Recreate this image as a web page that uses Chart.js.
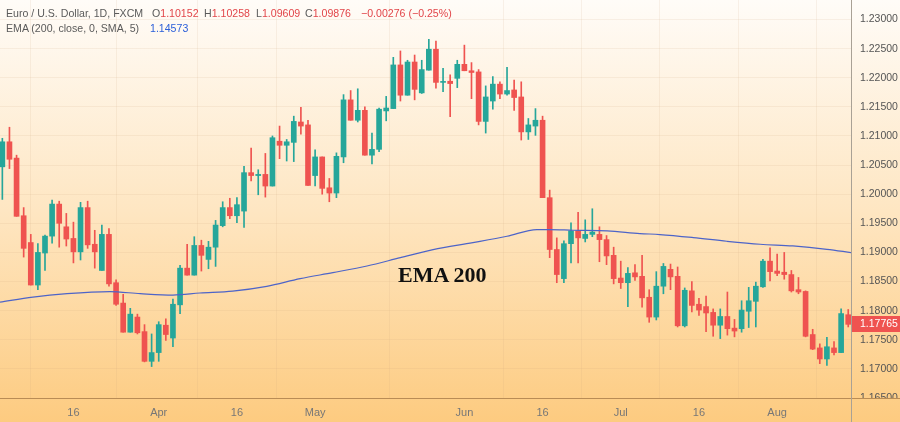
<!DOCTYPE html>
<html>
<head>
<meta charset="utf-8">
<script src="https://cdn.jsdelivr.net/npm/chart.js@4/dist/chart.umd.min.js"></script>
<style>
html,body{margin:0;padding:0;}
body{width:900px;height:422px;overflow:hidden;position:relative;
  background:linear-gradient(to bottom,#fffcf8 0%,#fee6c2 50%,#fdcb80 100%);
  font-family:"Liberation Sans",Arial,sans-serif;}
#wrap{position:absolute;left:0;top:0;width:900px;height:422px;}
.lg{position:absolute;font-size:10.6px;line-height:13px;color:#5a5a5a;white-space:nowrap;}
.r{color:#e2464a;}
.b{color:#2b5fd9;}
#emaTxt{position:absolute;left:398px;top:264px;font-family:"Liberation Serif","Times New Roman",serif;
  font-weight:bold;font-size:22px;line-height:22px;color:#111;white-space:nowrap;}
</style>
</head>
<body>
<div id="wrap"><canvas id="c" width="900" height="422"></canvas></div>
<div class="lg" style="left:6px;top:7px">Euro / U.S. Dollar, 1D, FXCM</div>
<div class="lg" style="left:152px;top:7px">O<span class="r">1.10152</span></div>
<div class="lg" style="left:204px;top:7px">H<span class="r">1.10258</span></div>
<div class="lg" style="left:256px;top:7px">L<span class="r">1.09609</span></div>
<div class="lg" style="left:305px;top:7px">C<span class="r">1.09876</span></div>
<div class="lg r" style="left:361px;top:7px">−0.00276 (−0.25%)</div>
<div class="lg" style="left:6px;top:22px">EMA (200, close, 0, SMA, 5)</div>
<div class="lg b" style="left:150px;top:22px">1.14573</div>
<div id="emaTxt">EMA 200</div>
<script>
// ---- data ----
const tickIdx    = [10, 22, 33, 44, 65, 76, 87, 98, 109];
const tickLabels = ['16', 'Apr', '16', 'May', 'Jun', '16', 'Jul', '16', 'Aug'];
const priceTicks = [1.165, 1.170, 1.175, 1.180, 1.185, 1.190, 1.195, 1.200, 1.205, 1.210, 1.215, 1.220, 1.225, 1.230];

const open = [
1.2047,1.2090,1.2062,1.1963,1.1917,1.1844,1.1899,1.1928,1.1983,1.1944,
1.1924,1.1901,1.1977,1.1914,1.1869,1.1931,1.1848,1.1813,1.1763,1.1789,
1.1764,1.1713,1.1728,1.1775,1.1753,1.1810,1.1873,1.1861,1.1912,1.1888,
1.1909,1.1946,1.1977,1.1963,1.1971,1.2037,1.2032,1.2034,1.2014,1.2091,
1.2084,1.2089,1.2124,1.2119,1.2032,1.2064,1.2011,1.2002,1.2064,1.2162,
1.2127,1.2144,1.2067,1.2077,1.2143,1.2147,1.2222,1.2170,1.2227,1.2174,
1.2213,1.2249,1.2192,1.2194,1.2199,1.2223,1.2212,1.2210,1.2125,1.2160,
1.2189,1.2172,1.2179,1.2167,1.2107,1.2117,1.2127,1.1994,1.1905,1.1855,
1.1915,1.1937,1.1924,1.1931,1.1931,1.1922,1.1895,1.1856,1.1848,1.1865,
1.1859,1.1823,1.1789,1.1842,1.1871,1.1859,1.1774,1.1834,1.1811,1.1807,
1.1797,1.1775,1.1790,1.1770,1.1769,1.1799,1.1816,1.1841,1.1885,1.1868,
1.1866,1.1862,1.1836,1.1833,1.1759,1.1736,1.1717,1.1736,1.1728,1.1793];
const close = [
1.2090,1.2060,1.1962,1.1907,1.1844,1.1900,1.1928,1.1983,1.1950,1.1923,
1.1901,1.1977,1.1913,1.1901,1.1931,1.1846,1.1811,1.1763,1.1794,1.1762,
1.1713,1.1728,1.1776,1.1759,1.1811,1.1873,1.1861,1.1912,1.1895,1.1909,
1.1947,1.1977,1.1963,1.1982,1.2037,1.2032,1.2034,1.2014,1.2097,1.2084,
1.2090,1.2125,1.2117,1.2015,1.2064,1.2010,1.2002,1.2065,1.2162,1.2127,
1.2144,1.2067,1.2077,1.2146,1.2148,1.2222,1.2170,1.2227,1.2180,1.2214,
1.2249,1.2192,1.2193,1.2190,1.2223,1.2212,1.2209,1.2125,1.2167,1.2189,
1.2172,1.2178,1.2166,1.2107,1.2119,1.2127,1.1994,1.1905,1.1862,1.1915,
1.1937,1.1925,1.1931,1.1935,1.1922,1.1894,1.1855,1.1848,1.1864,1.1858,
1.1822,1.1789,1.1842,1.1876,1.1858,1.1774,1.1835,1.1809,1.1801,1.1796,
1.1775,1.1790,1.1769,1.1765,1.1801,1.1817,1.1842,1.1885,1.1867,1.1864,
1.1862,1.1834,1.1832,1.1756,1.1734,1.1717,1.1738,1.1728,1.1795,1.17765];
const high = [
1.2096,1.2115,1.2067,1.1977,1.1931,1.1915,1.1930,1.1990,1.1988,1.1967,
1.1952,1.1986,1.1988,1.1938,1.1947,1.1941,1.1853,1.1828,1.1804,1.1794,
1.1776,1.1760,1.1781,1.1786,1.1820,1.1878,1.1914,1.1927,1.1921,1.1919,
1.1955,1.1987,1.1993,1.1994,1.2048,1.2079,1.2042,1.2070,1.2100,1.2117,
1.2094,1.2134,1.2149,1.2127,1.2076,1.2064,1.2027,1.2071,1.2171,1.2178,
1.2181,1.2150,1.2105,1.2148,1.2168,1.2235,1.2246,1.2230,1.2239,1.2230,
1.2266,1.2263,1.2216,1.2205,1.2230,1.2256,1.2226,1.2214,1.2186,1.2202,
1.2193,1.2218,1.2196,1.2193,1.2130,1.2147,1.2134,1.2007,1.1925,1.1920,
1.1951,1.1969,1.1956,1.1975,1.1944,1.1929,1.1909,1.1885,1.1874,1.1879,
1.1895,1.1836,1.1867,1.1881,1.1880,1.1875,1.1839,1.1850,1.1821,1.1825,
1.1803,1.1803,1.1832,1.1785,1.1817,1.1840,1.1849,1.1888,1.1908,1.1897,
1.1900,1.1869,1.1857,1.1834,1.1768,1.1743,1.1754,1.1747,1.1803,1.1802];
const low = [
1.1991,1.2044,1.1962,1.1892,1.1844,1.1836,1.1869,1.1916,1.1909,1.1911,
1.1882,1.1887,1.1907,1.1873,1.1869,1.1842,1.1809,1.1763,1.1763,1.1760,
1.1712,1.1704,1.1713,1.1749,1.1738,1.1795,1.1861,1.1861,1.1868,1.1872,
1.1876,1.1944,1.1958,1.1951,1.1943,1.2023,1.1999,1.1995,1.2014,1.2061,
1.2057,1.2056,1.2103,1.2015,1.2014,1.2000,1.1987,1.1994,1.2054,1.2127,
1.2124,1.2067,1.2052,1.2073,1.2126,1.2147,1.2160,1.2170,1.2162,1.2173,
1.2213,1.2182,1.2176,1.2133,1.2183,1.2212,1.2164,1.2119,1.2105,1.2146,
1.2164,1.2170,1.2144,1.2093,1.2094,1.2101,1.1994,1.1891,1.1848,1.1848,
1.1882,1.1882,1.1918,1.1927,1.1884,1.1879,1.1846,1.1838,1.1807,1.1852,
1.1806,1.1780,1.1784,1.1829,1.1836,1.1772,1.1772,1.1798,1.1792,1.1764,
1.1756,1.1752,1.1758,1.1755,1.1763,1.1771,1.1772,1.1840,1.1851,1.1860,
1.1854,1.1832,1.1829,1.1755,1.1733,1.1709,1.1706,1.1724,1.1728,1.1772];

const emaIdx = [-0.33,4.3,9.1,15.1,19.4,24.0,27.8,32.4,37.2,41.9,46.5,51.3,56.0,60.6,66.2,71.0,75.2,77.0,80.3,85.1,89.7,92.5,97.2,101.9,106.6,111.2,116.0,119.39];
const emaVal = [1.18148,1.18234,1.18292,1.18327,1.18292,1.18268,1.18303,1.18337,1.18418,1.18550,1.18653,1.18767,1.18911,1.19049,1.19169,1.19278,1.19393,1.19393,1.19381,1.19369,1.19324,1.19307,1.19255,1.19192,1.19140,1.19111,1.19054,1.18997];

// ---- styles ----
const GREEN = '#26a69a', RED = '#ef5350';
const FONT = '"Liberation Sans", Arial, sans-serif';
const isUp = i => close[i] >= open[i];
const candleColor = c => isUp(c.dataIndex) ? GREEN : RED;
const idx = open.map((_, i) => i);

const priceTag = {
  id: 'priceTag',
  afterDraw(chart) {
    const {ctx, chartArea: a, scales: {y}} = chart;
    ctx.save();
    ctx.clearRect(a.right + 1, a.bottom + 1, chart.width - a.right, chart.height - a.bottom);
    ctx.lineWidth = 1;
    ctx.strokeStyle = '#b98c55';
    ctx.beginPath(); ctx.moveTo(a.right, a.bottom + 0.5); ctx.lineTo(chart.width, a.bottom + 0.5); ctx.stroke();
    ctx.strokeStyle = '#a9a195';
    ctx.beginPath(); ctx.moveTo(a.right + 0.5, a.top); ctx.lineTo(a.right + 0.5, chart.height); ctx.stroke();
    const last = close[close.length - 1];
    const py = Math.round(y.getPixelForValue(last));
    ctx.fillStyle = RED;
    ctx.fillRect(a.right + 1, py - 8, chart.width - a.right - 1, 16);
    ctx.fillStyle = '#ffffff';
    ctx.font = '10.5px ' + FONT;
    ctx.textBaseline = 'middle';
    ctx.textAlign = 'left';
    ctx.fillText(last.toFixed(5), a.right + 9, py + 0.5);
    ctx.restore();
  }
};

new Chart(document.getElementById('c'), {
  type: 'bar',
  data: {
    datasets: [
      {
        type: 'line',
        data: emaIdx.map((x, i) => ({x: x, y: emaVal[i]})),
        borderColor: '#4d64c8',
        borderWidth: 1.2,
        pointRadius: 0,
        cubicInterpolationMode: 'monotone',
        order: 0
      },
      {
        data: idx.map(i => ({x: i, y: [open[i], close[i]]})),
        backgroundColor: candleColor,
        barThickness: 5,
        minBarLength: 1,
        grouped: false,
        order: 1
      },
      {
        data: idx.map(i => ({x: i, y: [low[i], high[i]]})),
        backgroundColor: candleColor,
        barThickness: 1,
        grouped: false,
        order: 2
      }
    ]
  },
  options: {
    responsive: false,
    animation: false,
    devicePixelRatio: 1,
    layout: {padding: 0},
    plugins: {legend: {display: false}, tooltip: {enabled: false}},
    scales: {
      x: {
        type: 'linear',
        min: -0.33,
        max: 119.39,
        offset: false,
        afterBuildTicks: s => { s.ticks = tickIdx.map(v => ({value: v})); },
        afterFit: s => { s.height = 24; s.paddingLeft = 0; s.paddingRight = 0; },
        ticks: {
          autoSkip: false,
          maxRotation: 0,
          padding: 8,
          color: '#777777',
          font: {family: FONT, size: 11},
          callback: v => { const k = tickIdx.indexOf(v); return k >= 0 ? tickLabels[k] : ''; }
        },
        grid: {color: 'rgba(200,165,120,0.13)', drawTicks: false},
        border: {color: '#b98c55'}
      },
      y: {
        type: 'linear',
        position: 'right',
        min: 1.165,
        max: 1.23335,
        afterBuildTicks: s => { s.ticks = priceTicks.map(v => ({value: v})); },
        afterFit: s => { s.width = 49; s.paddingTop = 0; s.paddingBottom = 0; },
        ticks: {
          padding: 9,
          color: '#555555',
          font: {family: FONT, size: 10.5},
          callback: v => Number(v).toFixed(5)
        },
        grid: {color: 'rgba(200,165,120,0.13)', drawTicks: false},
        border: {color: '#a9a195'}
      }
    }
  },
  plugins: [priceTag]
});
</script>
</body>
</html>
